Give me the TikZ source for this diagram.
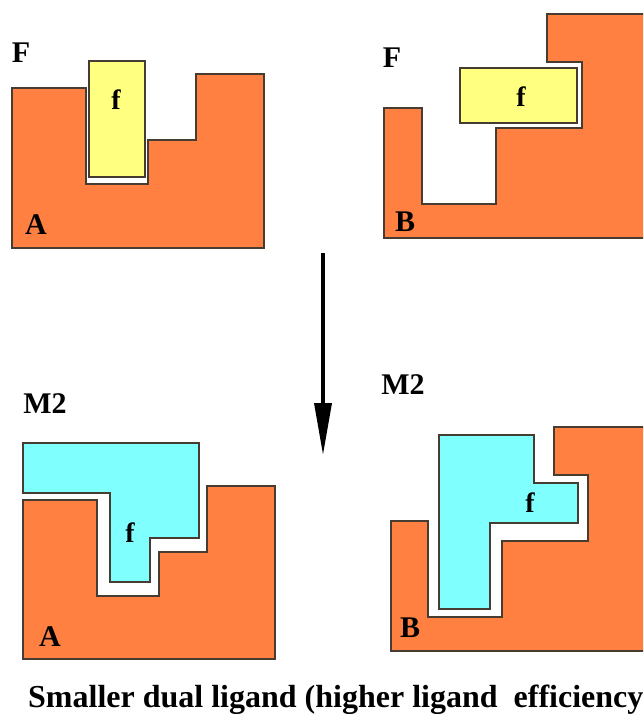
\documentclass[tikz,border=0pt]{standalone}
\usepackage{fontspec}
\setmainfont{Liberation Serif}
\usetikzlibrary{arrows.meta}
\definecolor{protein}{RGB}{255,128,64}
\definecolor{frag}{RGB}{255,255,128}
\definecolor{dual}{RGB}{128,255,255}
\definecolor{edge}{RGB}{70,60,50}
\tikzset{
  pocket/.style={fill=protein, draw=edge, line width=1.2pt, line join=miter},
  fragment/.style={fill=frag, draw=edge, line width=1.2pt},
  ligand/.style={fill=dual, draw=edge, line width=1.2pt},
  lbl/.style={font=\bfseries\fontsize{30}{32}\selectfont, inner sep=0pt, text=black},
  smalllbl/.style={font=\bfseries\fontsize{28}{30}\selectfont, inner sep=0pt, text=black},
}
\begin{document}
\begin{tikzpicture}[x=1pt,y=-1pt]
\useasboundingbox (0,0) rectangle (643,714);
\clip (0,0) rectangle (643,714);
\fill[white] (0,0) rectangle (643,714);

% --- top left: protein A with fragment F
\draw[pocket] (12,88) -- (86,88) -- (86,184) -- (148,184) -- (148,140) -- (196,140)
  -- (196,74) -- (264,74) -- (264,248) -- (12,248) -- cycle;
\draw[edge, line width=2pt] (170,248) -- (181,248);
\draw[fragment] (89,61) rectangle (145,177);
\node[lbl] (F1) at (21,53) {F};
\node[smalllbl] (f1) at (116,100) {f};
\node[lbl] (A1) at (36,225) {A};

% --- top right: protein B with fragment F
\draw[pocket] (384,108) -- (422,108) -- (422,204) -- (496,204) -- (496,128) -- (582,128)
  -- (582,62) -- (547,62) -- (547,14) -- (650,14) -- (650,238) -- (384,238) -- cycle;
\draw[fragment] (460,68) rectangle (577,123);
\node[lbl] (F2) at (392,58) {F};
\node[smalllbl] (f2) at (521,97) {f};
\node[lbl] (B1) at (405,222) {B};

% --- arrow between the rows
\coordinate (arrtop) at (323,253);
\coordinate (arrtip) at (323,455);
\draw[line width=3.5pt, -{Triangle[length=52pt,width=17pt]}] (arrtop) -- (arrtip);

% --- bottom left: protein A with dual ligand M2
\draw[pocket] (23,500) -- (97,500) -- (97,596) -- (159,596) -- (159,552) -- (207,552)
  -- (207,486) -- (275,486) -- (275,659) -- (23,659) -- cycle;
\draw[edge, line width=2pt] (181,659) -- (192,659);
\draw[ligand] (23,443) -- (199,443) -- (199,538) -- (150,538) -- (150,582) -- (110,582)
  -- (110,493) -- (23,493) -- cycle;
\node[lbl] (M1) at (45,404) {M2};
\node[smalllbl] (f3) at (130,533) {f};
\node[lbl] (A2) at (50,637) {A};

% --- bottom right: protein B with dual ligand M2
\draw[pocket] (391,521) -- (428,521) -- (428,617) -- (502,617) -- (502,541) -- (588,541)
  -- (588,475) -- (554,475) -- (554,427) -- (650,427) -- (650,651) -- (391,651) -- cycle;
\draw[ligand] (439,435) -- (534,435) -- (534,483) -- (578,483) -- (578,523) -- (490,523)
  -- (490,609) -- (439,609) -- cycle;
\node[lbl] (M2) at (403,385) {M2};
\node[smalllbl] (f4) at (530,503) {f};
\node[lbl] (B2) at (410,628) {B};

% --- caption
\node[font=\bfseries\fontsize{32}{34}\selectfont, anchor=base west, inner sep=0pt]
  (caption) at (28,707) {Smaller dual ligand (higher ligand\ \ efficiency};
\end{tikzpicture}
\end{document}
